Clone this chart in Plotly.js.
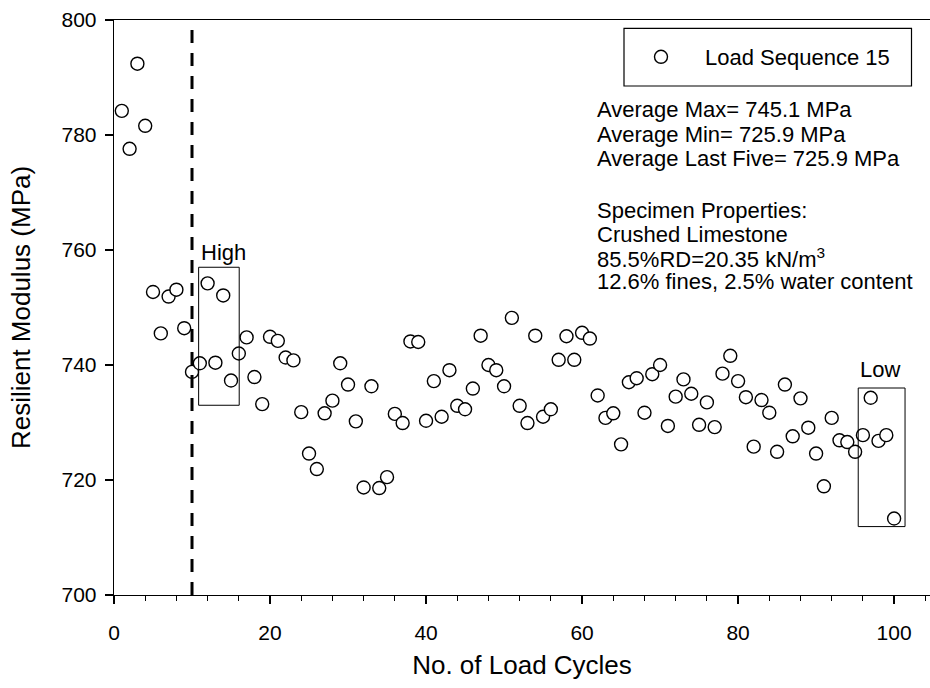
<!DOCTYPE html>
<html>
<head>
<meta charset="utf-8">
<script src="https://cdn.plot.ly/plotly-3.0.1.min.js"></script>
<style>html,body{margin:0;padding:0;background:#fff;}#chart{width:930px;height:688px;}</style>
</head>
<body>
<div id="chart"></div>
<script>
// ---- data ----
const cycles = [1,2,3,4,5,6,7,8,9,10,11,12,13,14,15,16,17,18,19,20,
  21,22,23,24,25,26,27,28,29,30,31,32,33,34,35,36,37,38,39,40,
  41,42,43,44,45,46,47,48,49,50,51,52,53,54,55,56,57,58,59,60,
  61,62,63,64,65,66,67,68,69,70,71,72,73,74,75,76,77,78,79,80,
  81,82,83,84,85,86,87,88,89,90,91,92,93,94,95,96,97,98,99,100];
const modulus = [784.2,777.6,792.4,781.6,752.7,745.5,751.9,753.1,746.4,738.8,
  740.3,754.2,740.4,752.1,737.3,742.0,744.8,737.9,733.2,744.9,
  744.2,741.3,740.8,731.8,724.6,721.9,731.6,733.8,740.3,736.6,
  730.2,718.7,736.3,718.6,720.5,731.5,729.9,744.1,744.0,730.3,
  737.2,731.0,739.1,732.9,732.3,735.9,745.1,740.0,739.1,736.3,
  748.2,732.9,729.9,745.1,731.0,732.3,740.9,745.0,740.9,745.6,
  744.6,734.7,730.8,731.6,726.2,737.0,737.7,731.7,738.4,740.0,
  729.4,734.5,737.5,735.0,729.6,733.5,729.2,738.5,741.6,737.2,
  734.4,725.8,733.9,731.7,724.9,736.6,727.6,734.2,729.1,724.6,
  718.9,730.8,726.9,726.6,724.9,727.8,734.3,726.8,727.8,713.3];
const seriesName = "Load Sequence 15";
const xTicks = [0,20,40,60,80,100];
const yTicks = [700,720,740,760,780,800];
const infoLines = ["Average Max= 745.1 MPa","Average Min= 725.9 MPa","Average Last Five= 725.9 MPa",
  "Specimen Properties:","Crushed Limestone","85.5%RD=20.35 kN/m<sup>3</sup>","12.6% fines, 2.5% water content"];
const seatingCycles = 10;
const highBox = {x: [10.85, 16.05], y: [733.0, 757.0], label: "High"};
const lowBox = {x: [95.4, 101.4], y: [711.9, 736.0], label: "Low"};

// ---- layout helpers ----
const FONT = "Liberation Sans, Arial, Helvetica, sans-serif";
const W = 930, H = 688, ML = 114, MR = 0, MT = 20, MB = 93;
const pw = W - ML - MR, ph = H - MT - MB;
const px2x = p => (p - ML) / pw;
const py2y = p => (H - MB - p) / ph;
const lineY = [110, 134, 158, 211, 234, 258, 281];

const annotations = infoLines.map((t, i) => ({
  xref: "paper", yref: "paper", x: px2x(595), y: py2y(lineY[i]),
  xanchor: "left", yanchor: "middle", text: t, showarrow: false,
  font: {family: FONT, size: 22, color: "#000"}
}));
annotations.push({xref: "x", yref: "y", x: highBox.x[0] + 0.1, y: 759.6, xanchor: "left", yanchor: "middle",
  text: highBox.label, showarrow: false, font: {family: FONT, size: 22, color: "#000"}});
annotations.push({xref: "x", yref: "y", x: (lowBox.x[0] + lowBox.x[1]) / 2 - 0.2, y: 739.2, xanchor: "center", yanchor: "middle",
  text: lowBox.label, showarrow: false, font: {family: FONT, size: 22, color: "#000"}});

const shapes = [
  {type: "line", xref: "x", yref: "y", x0: seatingCycles, x1: seatingCycles, y0: 700, y1: 798.6,
   line: {color: "#000", width: 3, dash: "13px,10px"}},
  {type: "rect", xref: "x", yref: "y", x0: highBox.x[0], x1: highBox.x[1], y0: highBox.y[0], y1: highBox.y[1],
   line: {color: "#000", width: 1}},
  {type: "rect", xref: "x", yref: "y", x0: lowBox.x[0], x1: lowBox.x[1], y0: lowBox.y[0], y1: lowBox.y[1],
   line: {color: "#000", width: 1}},
  {type: "rect", xref: "paper", yref: "paper", x0: px2x(624), x1: px2x(911.5), y0: py2y(86), y1: py2y(28.3),
   line: {color: "#000", width: 1.2}}
];

const trace = {
  x: cycles, y: modulus, type: "scatter", mode: "markers", name: seriesName,
  marker: {symbol: "circle", size: 13, color: "#fff", line: {color: "#000", width: 1.4}},
  cliponaxis: false
};

const layout = {
  width: W, height: H,
  margin: {l: ML, r: MR, t: MT, b: MB, pad: 0},
  paper_bgcolor: "#fff", plot_bgcolor: "#fff",
  font: {family: FONT, color: "#000"},
  showlegend: true,
  legend: {x: px2x(617), y: py2y(57), xanchor: "left", yanchor: "middle",
    bgcolor: "rgba(0,0,0,0)", borderwidth: 0, itemwidth: 78,
    font: {family: FONT, size: 22, color: "#000"}},
  xaxis: {
    range: [0, 104.6], tickvals: xTicks, ticktext: xTicks.map(String),
    ticks: "outside", ticklen: 8, tickwidth: 1.3, tickcolor: "#000",
    minor: {dtick: 4, ticks: "outside", ticklen: 5, tickwidth: 1, tickcolor: "#000"},
    showline: true, linecolor: "#000", linewidth: 1.3, mirror: true,
    showgrid: false, zeroline: false, ticklabelstandoff: 10,
    tickfont: {family: FONT, size: 21, color: "#000"},
    title: {text: "No. of Load Cycles", font: {family: FONT, size: 26, color: "#000"}, standoff: 13}
  },
  yaxis: {
    range: [700, 800], tickvals: yTicks, ticktext: yTicks.map(String),
    ticks: "outside", ticklen: 8, tickwidth: 1.3, tickcolor: "#000",
    showline: true, linecolor: "#000", linewidth: 1.3, mirror: false,
    showgrid: false, zeroline: false, ticklabelstandoff: 4,
    tickfont: {family: FONT, size: 21, color: "#000"},
    title: {text: "Resilient Modulus (MPa)", font: {family: FONT, size: 26, color: "#000"}, standoff: 23}
  },
  shapes: shapes,
  annotations: annotations
};

Plotly.newPlot("chart", [trace], layout, {displayModeBar: false, staticPlot: true});
</script>
</body>
</html>
